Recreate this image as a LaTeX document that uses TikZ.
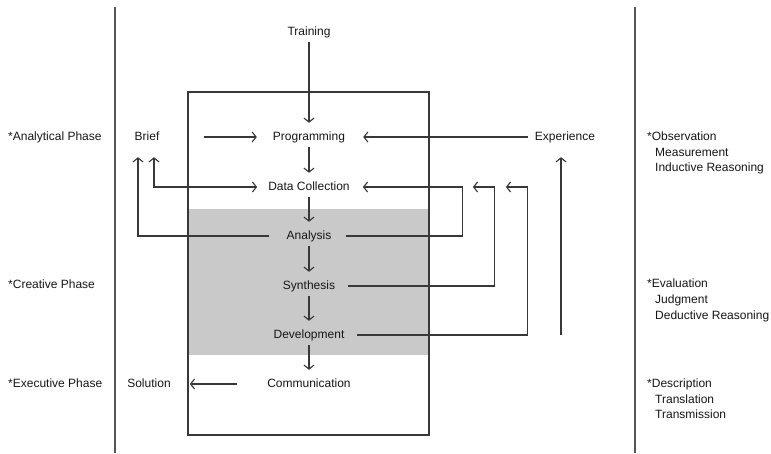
\documentclass[tikz,border=0pt]{standalone}
\usepackage{fontspec}
\setmainfont{Liberation Sans}
\usetikzlibrary{arrows.meta}
\definecolor{ink}{HTML}{161616}
\definecolor{rule}{HTML}{383838}
\definecolor{zonegray}{HTML}{C9C9C9}
\begin{document}
\begin{tikzpicture}[x=1pt,y=-1pt,
  lbl/.style={inner xsep=0pt,inner ysep=4pt,text height=9pt,text depth=3pt,
    font=\fontsize{12}{14}\selectfont,text=ink},
  note/.style={lbl,anchor=west},
  conn/.style={draw=rule,line width=1.1pt},
  arr/.style={conn,-{Straight Barb[length=4pt,width=10pt]}},
  darr/.style={conn,{Straight Barb[length=4pt,width=10pt]}-{Straight Barb[length=4pt,width=10pt]}},
  frame/.style={draw=rule,line width=1.1pt},
  divider/.style={draw=rule!85,line width=1.6pt}]
\useasboundingbox (0,0) rectangle (771,453);

% shaded creative zone and process box
\fill[zonegray] (188,209) rectangle (429,355);
\draw[frame] (188,92) rectangle (429,435);

% phase dividers
\draw[divider] (115,7) -- (115,453);
\draw[divider] (635,7) -- (635,453);

% process steps
\node[lbl] (training) at (309,32) {Training};
\node[lbl] (prog) at (309,137) {Programming};
\node[lbl] (data) at (309,187) {Data Collection};
\node[lbl] (ana) at (309,236) {Analysis};
\node[lbl] (syn) at (309,286) {Synthesis};
\node[lbl] (dev) at (309,335) {Development};
\node[lbl] (comm) at (309,384) {Communication};
\node[lbl] (brief) at (147,137) {Brief};
\node[lbl] (exp) at (565,137) {Experience};
\node[lbl] (sol) at (149,384) {Solution};

% phase names
\node[note] (pa) at (8,137) {*Analytical Phase};
\node[note] (pc) at (8,285) {*Creative Phase};
\node[note] (pe) at (8,384) {*Executive Phase};

% reasoning modes
\node[note] (o1) at (647,137) {*Observation};
\node[note] (o2) at (655,153) {Measurement};
\node[note] (o3) at (655,168) {Inductive Reasoning};
\node[note] (e1) at (647,284) {*Evaluation};
\node[note] (e2) at (655,300) {Judgment};
\node[note] (e3) at (655,316) {Deductive Reasoning};
\node[note] (d1) at (647,384) {*Description};
\node[note] (d2) at (655,400) {Translation};
\node[note] (d3) at (655,415) {Transmission};

% main sequence
\begin{scope}[shorten >=4pt]
\draw[arr] (training) -- (prog);
\draw[arr] (prog) -- (data);
\draw[arr] (data) -- (ana);
\draw[arr] (ana) -- (syn);
\draw[arr] (syn) -- (dev);
\draw[arr] (dev) -- (comm);
\end{scope}

% inputs and output
\draw[arr] ([xshift=44]brief.east) -- ([xshift=-16]prog.west);
\draw[arr] ([xshift=-7]exp.west) -- ([xshift=18]prog.east);
\draw[arr] ([xshift=-30]comm.west) -- ([xshift=19]sol.east);

% feedback to the brief
\draw[arr,shorten >=10pt] ([xshift=-17]ana.west) -| ([xshift=-9]brief.south);
\draw[darr,shorten >=10pt] ([xshift=-11]data.west) -| ([xshift=7]brief.south);

% feedback to data collection
\draw[arr] ([xshift=14]ana.east) -| ([xshift=113]data.east) -- ([xshift=13]data.east);
\draw[arr] ([xshift=13]syn.east) -| ([xshift=145]data.east) -- ([xshift=123]data.east);
\draw[arr] ([xshift=12]dev.east) -| ([xshift=178]data.east) -- ([xshift=156]data.east);

% growth of experience
\coordinate (upbase) at (561,335);
\draw[arr,shorten >=10pt] (upbase) -- (upbase |- exp.south);
\end{tikzpicture}
\end{document}
